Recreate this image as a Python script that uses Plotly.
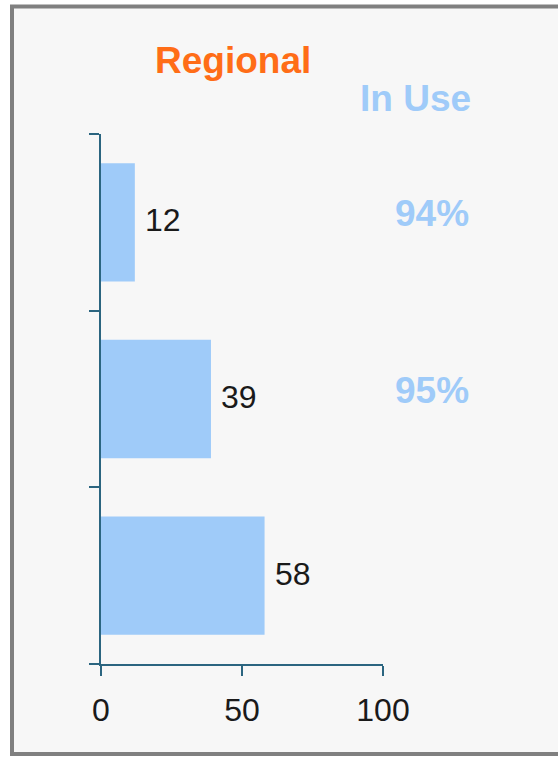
import plotly.graph_objects as go

# Data
categories = ["Group A", "Group B", "Group C"]
counts = [12, 39, 58]
in_use_pct = [94, 95, None]
x_ticks = [0, 50, 100]

BAR_COLOR = "#9fcbf9"
AXIS_COLOR = "#2b6580"
ORANGE = "#ff6d17"
FONT = "Liberation Sans, Arial, sans-serif"

W, H = 558, 757
M_L, M_R, M_T, M_B = 101, 175, 134, 93
PW, PH = W - M_L - M_R, H - M_T - M_B


def px_x(px):
    return (px - M_L) / PW


def px_y(py):
    return (H - M_B - py) / PH


fig = go.Figure(
    go.Bar(
        x=counts,
        y=categories,
        orientation="h",
        width=0.67,
        marker=dict(color=BAR_COLOR, line=dict(width=0)),
        hoverinfo="x+y",
    )
)

annotations = []
# value labels right of each bar
for cat, v in zip(categories, counts):
    annotations.append(dict(
        x=v, y=cat, xref="x", yref="y", text=str(v), showarrow=False,
        xanchor="left", yanchor="middle", xshift=8, yshift=2,
        font=dict(family=FONT, size=32, color="#1a1a1a"),
    ))
# "In Use" percentages
for cat, p in zip(categories, in_use_pct):
    if p is None:
        continue
    annotations.append(dict(
        x=px_x(431.5), y=cat, xref="paper", yref="y", text=f"<b>{p}%</b>",
        showarrow=False, xanchor="center", yanchor="middle", yshift=9,
        font=dict(family=FONT, size=37, color=BAR_COLOR),
    ))
annotations.append(dict(
    x=px_x(233), y=px_y(60), xref="paper", yref="paper", text="<b>Regional</b>",
    showarrow=False, xanchor="center", yanchor="middle",
    font=dict(family=FONT, size=37, color=ORANGE),
))
annotations.append(dict(
    x=px_x(416), y=px_y(99), xref="paper", yref="paper", text="<b>In Use</b>",
    showarrow=False, xanchor="center", yanchor="middle",
    font=dict(family=FONT, size=37, color=BAR_COLOR),
))

fig.update_layout(
    width=W, height=H,
    margin=dict(l=M_L, r=M_R, t=M_T, b=M_B, pad=0),
    paper_bgcolor="white",
    plot_bgcolor="rgba(0,0,0,0)",
    showlegend=False,
    annotations=annotations,
    shapes=[dict(
        type="rect", xref="paper", yref="paper", layer="below",
        x0=px_x(12), x1=px_x(575), y0=px_y(754), y1=px_y(6.5),
        line=dict(color="#808080", width=4), fillcolor="#f7f7f7",
    )],
    xaxis=dict(
        range=[0, 100], tickvals=x_ticks, ticks="outside", ticklen=10, tickwidth=2,
        tickcolor=AXIS_COLOR, showline=True, linecolor=AXIS_COLOR, linewidth=2,
        showgrid=False, zeroline=False, ticklabelstandoff=7,
        tickfont=dict(family=FONT, size=32, color="#1a1a1a"),
    ),
    yaxis=dict(
        categoryorder="array", categoryarray=categories[::-1],
        tickson="boundaries", ticks="outside", ticklen=10, tickwidth=2,
        tickcolor=AXIS_COLOR, showline=True, linecolor=AXIS_COLOR, linewidth=2,
        showgrid=False, zeroline=False, showticklabels=False,
    ),
)

fig.write_html("out.html")
